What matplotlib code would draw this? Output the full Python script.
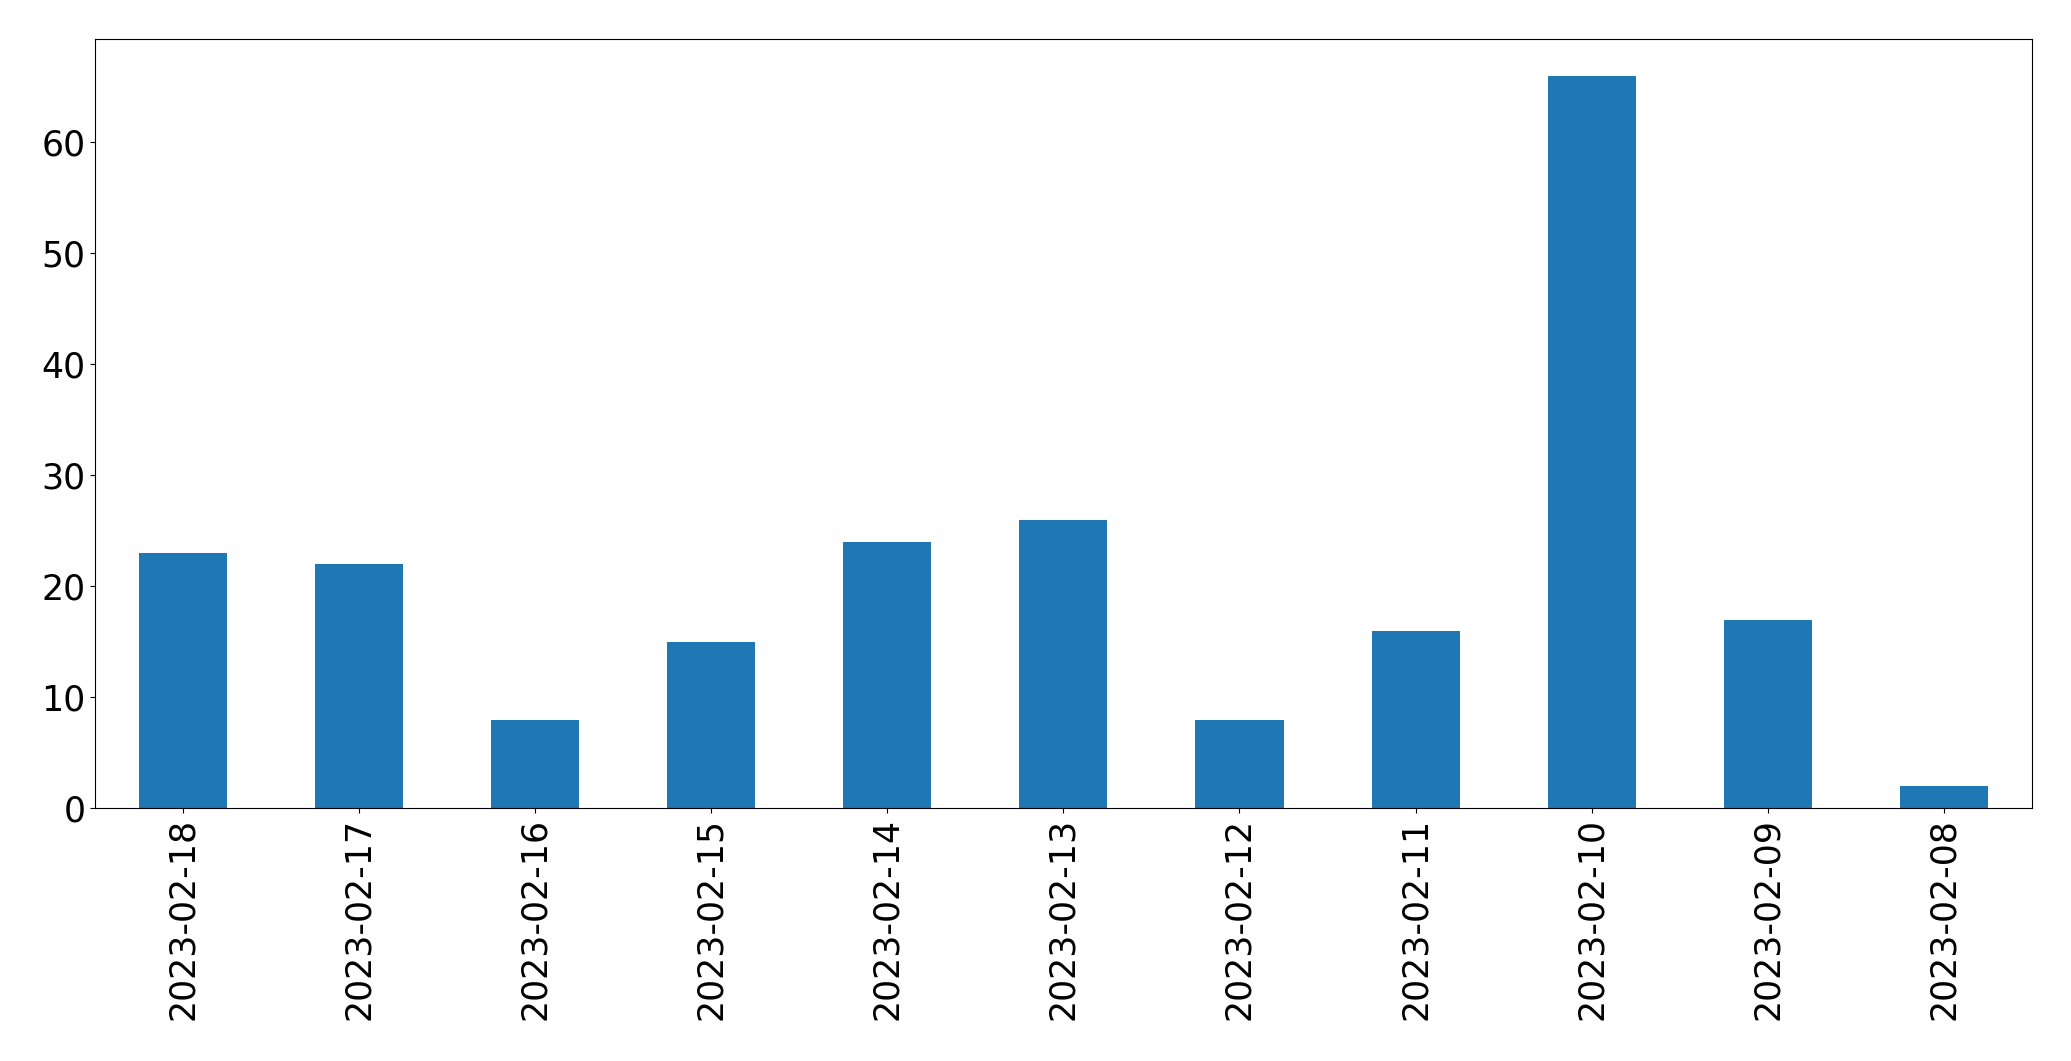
import matplotlib
matplotlib.use('Agg')
import matplotlib.pyplot as plt
import numpy as np

dates = ['2023-02-18', '2023-02-17', '2023-02-16', '2023-02-15', '2023-02-14', '2023-02-13',
         '2023-02-12', '2023-02-11', '2023-02-10', '2023-02-09', '2023-02-08']
counts = [23, 22, 8, 15, 24, 26, 8, 16, 66, 17, 2]

fig = plt.figure(figsize=(20.71, 10.61), dpi=100)
ax = fig.add_axes([0.046, 0.238, 0.935, 0.725])

x = np.arange(len(dates))
ax.bar(x, counts, width=0.5, color='#1f77b4')
ax.set_xlim(-0.5, len(dates) - 0.5)
ax.set_xticks(x)
ax.set_xticklabels(dates, rotation=90)
ax.tick_params(axis='both', labelsize=25)

fig.savefig('out.png', dpi=100)
